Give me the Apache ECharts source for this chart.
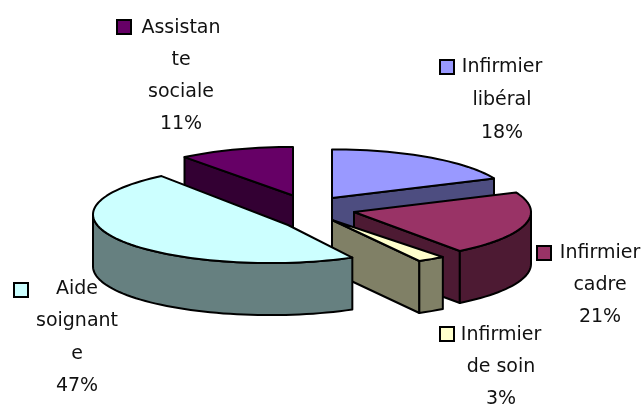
<!DOCTYPE html>
<html>
<head>
<meta charset="utf-8">
<style>
	html,body{margin:0;padding:0;background:#fff}
	#chart{width:643px;height:406px}
</style>
<script src="https://cdn.jsdelivr.net/npm/echarts@6/dist/echarts.min.js"></script>
</head>
<body>
<div id="chart"></div>
<script>
	//parts of the pie (a bit finer than the printed %)
	var categories=['Infirmier libéral','Infirmier cadre','Infirmier de soin','Aide soignante','Assistante sociale']
	var values=[18.4,21.4,2.5,47.2,10.5]
	//the labels break words the same way the original does
	var labelLines=[
		['Infirmier','libéral'],
		['Infirmier','cadre'],
		['Infirmier','de soin'],
		['Aide','soignant','e'],
		['Assistan','te','sociale']
	]
	var topColors=['#9999ff','#993366','#ffffcc','#ccffff','#660066']
	var sideColors=['#4d4d80','#4d1a33','#808066','#668080','#330033']

	//layout only: exploded centre of every slice, the tip of its wedge and where its label sits
	var sliceCenters=[[332,198],[354,212],[337,218],[270,214.5],[293,195.5]]
	var sliceTips=[[332,198],[354,212],[332,220],[288,225],[293,195.5]]
	var labelPos=[
		{key:[447,67],x:502,y:67,gap:33},
		{key:[544,253],x:600,y:253,gap:32},
		{key:[447,334],x:501,y:335,gap:32},
		{key:[21,290],x:77,y:289,gap:32.5},
		{key:[124,27],x:181,y:28,gap:32}
	]
	var rx=177,ry=48.6,depth=52
	//back to front
	var drawOrder=[4,0,1,2,3]

	var total=values.reduce(function(a,b){return a+b},0)
	var angles=[],sum=0
	values.forEach(function(v){
		angles.push([sum/total*Math.PI*2,(sum+v)/total*Math.PI*2])
		sum+=v
	})

	function pt(c,a){
		return [c[0]+rx*Math.sin(a),c[1]-ry*Math.cos(a)]
	}
	function down(p){
		return [p[0],p[1]+depth]
	}
	function arcPoints(c,a0,a1){
		var pts=[],n=Math.max(2,Math.ceil((a1-a0)/0.04))
		for(var i=0;i<=n;i++){
			pts.push(pt(c,a0+(a1-a0)*i/n))
		}
		return pts
	}
	function poly(points,fill){
		return {
			type:'polygon',
			shape:{points:points},
			style:{fill:fill,stroke:'#000',lineWidth:2,lineJoin:'round'},
			silent:true
		}
	}
	function wall(c,tip,a,fill){
		var p=pt(c,a)
		return poly([tip,p,down(p),down(tip)],fill)
	}

	function renderSlice(params,api){
		var i=api.value(0)
		var c=sliceCenters[i],tip=sliceTips[i],a0=angles[i][0],a1=angles[i][1]
		var children=[]
		//start wall shows on the left half, end wall on the right half
		if(Math.sin(a0)<0) children.push(wall(c,tip,a0,sideColors[i]))
		if(Math.sin(a1)>0) children.push(wall(c,tip,a1,sideColors[i]))
		//only the front of the rim is seen
		var r0=Math.max(a0,Math.PI/2),r1=Math.min(a1,Math.PI*1.5)
		if(r1>r0){
			var rim=arcPoints(c,r0,r1)
			children.push(poly(rim.concat(rim.map(down).reverse()),sideColors[i]))
		}
		children.push(poly([tip].concat(arcPoints(c,a0,a1)),topColors[i]))
		return {type:'group',children:children}
	}

	function renderLabel(params,api){
		var i=api.value(0),pos=labelPos[i]
		var lines=labelLines[i].concat(Math.round(values[i])+'%')
		var children=[{
			type:'rect',
			shape:{x:pos.key[0]-7,y:pos.key[1]-7,width:14,height:14},
			style:{fill:topColors[i],stroke:'#000',lineWidth:2},
			silent:true
		}]
		lines.forEach(function(line,k){
			children.push({
				type:'text',
				style:{
					text:line,
					x:pos.x,
					y:pos.y+k*pos.gap,
					align:'center',
					verticalAlign:'middle',
					font:'19px "DejaVu Sans"',
					fill:'#111'
				},
				silent:true
			})
		})
		return {type:'group',children:children}
	}

	var chartInstance=echarts.init(document.getElementById('chart'),null,{renderer:'canvas'})
	chartInstance.setOption({
		backgroundColor:'#fff',
		animation:false,
		series:[
			{
				type:'custom',
				name:'slices',
				coordinateSystem:'none',
				renderItem:renderSlice,
				data:drawOrder.map(function(i){return {name:categories[i],value:[i,values[i]]}})
			},
			{
				type:'custom',
				name:'labels',
				coordinateSystem:'none',
				renderItem:renderLabel,
				data:categories.map(function(name,i){return {name:name,value:[i,values[i]]}})
			}
		]
	})
</script>
</body>
</html>
